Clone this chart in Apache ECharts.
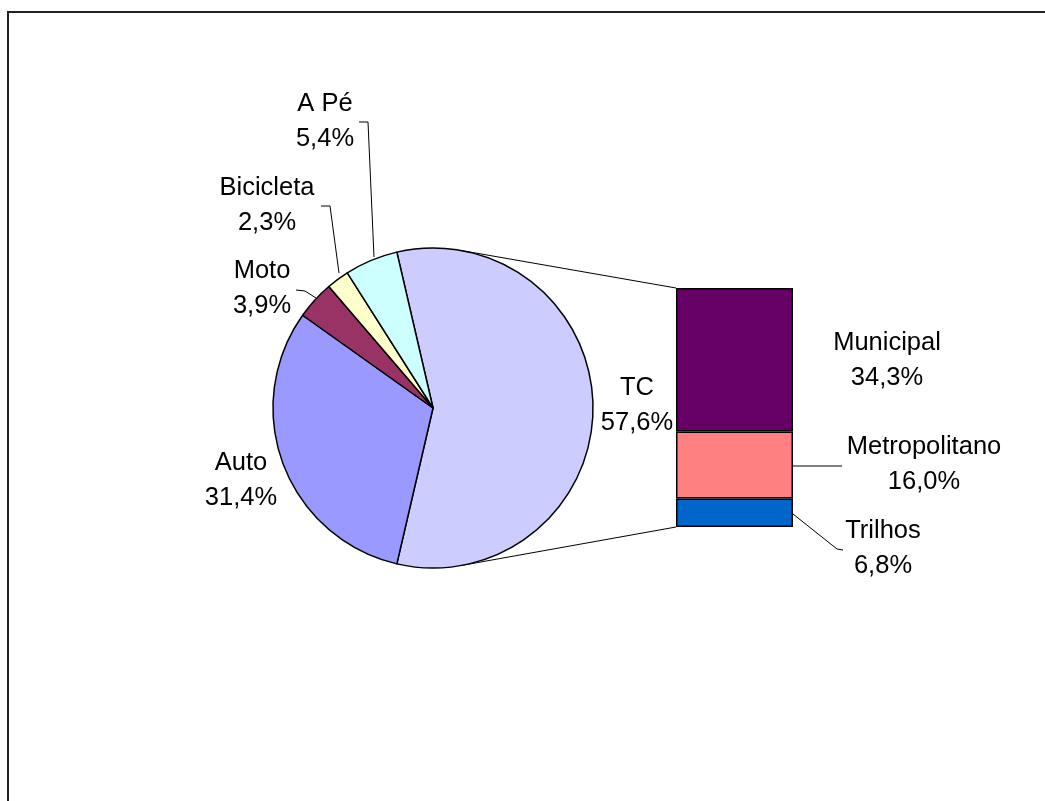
<!DOCTYPE html>
<html>
<head>
<meta charset="utf-8">
<script src="https://cdn.jsdelivr.net/npm/echarts@6/dist/echarts.min.js"></script>
<style>html,body{margin:0;padding:0;background:#fff}#c{width:1045px;height:801px}</style>
</head>
<body>
<div id="c"></div>
<script>
// ---- data ----
const pieNames = ['TC', 'Auto', 'Moto', 'Bicicleta', 'A Pé'];
const pieValues = [57.6, 31.4, 3.9, 2.3, 5.4];
const pieColors = ['#CCCCFF', '#9999FF', '#993366', '#FFFFCC', '#CCFFFF'];

const barNames = ['Municipal', 'Metropolitano', 'Trilhos'];
const barValues = [34.3, 16.0, 6.8];
const barColors = ['#660066', '#FF8080', '#0066CC'];

// ---- layout ----
const pieCenter = [433, 408];
const pieRadius = 160;
const barGrid = { left: 676, top: 288, width: 117, height: 239 };
const FONT = { fontFamily: 'Liberation Sans, Arial, sans-serif', fontSize: 25.5, lineHeight: 35, color: '#000' };

// label anchors (center of text block) and leader lines
const pieLabelPos = {
  'TC': { c: [637, 405] },
  'Auto': { c: [241, 480] },
  'Moto': { c: [262, 288], line: [[316, 298], [305, 291], [296, 290]] },
  'Bicicleta': { c: [267, 205], line: [[339, 273], [330, 206], [321, 206]] },
  'A Pé': { c: [325, 121], line: [[374, 257], [368, 122], [359, 122]] }
};
const barLabelPos = {
  'Municipal': { c: [887, 360] },
  'Metropolitano': { c: [924, 464], line: [[793, 466], [842, 466]] },
  'Trilhos': { c: [883, 548], line: [[793, 514], [837, 549], [843, 550]] }
};

const fmt = v => v.toFixed(1).replace('.', ',') + '%';

const pieTotal = pieValues.reduce((a, b) => a + b, 0);
const startAngle = 360 * pieValues[0] / pieTotal / 2;

const barTotal = barValues.reduce((a, b) => a + b, 0);

const chart = echarts.init(document.getElementById('c'), null, { renderer: 'canvas' });

// stacked bar (bottom first)
const barSeries = [];
for (let i = barNames.length - 1; i >= 0; i--) {
  const name = barNames[i];
  const lp = barLabelPos[name];
  barSeries.push({
    type: 'bar',
    name: name,
    stack: 'tc',
    barWidth: '100%',
    data: [barValues[i]],
    itemStyle: { color: barColors[i], borderColor: '#000', borderWidth: 1.5 },
    label: {
      show: true, position: 'right',
      formatter: () => name + '\n' + fmt(barValues[i]),
      align: 'center', ...FONT
    },
    labelLayout: () => ({ x: lp.c[0], y: lp.c[1], align: 'center', verticalAlign: 'middle' }),
    emphasis: { disabled: true },
    animation: false
  });
}

const pieData = pieNames.map((n, i) => ({
  name: n,
  value: pieValues[i],
  itemStyle: { color: pieColors[i] },
  labelLine: { show: !!pieLabelPos[n].line }
}));

// connector tangent lines from bar left corners to the circle
function tangentPoint(P, upper) {
  const dx = P[0] - pieCenter[0], dy = P[1] - pieCenter[1];
  const d = Math.sqrt(dx * dx + dy * dy);
  const th = Math.atan2(dy, dx);
  const a = Math.acos(pieRadius / d);
  const t = upper ? th - a : th + a;
  return [pieCenter[0] + pieRadius * Math.cos(t), pieCenter[1] + pieRadius * Math.sin(t)];
}
const barTL = [barGrid.left, barGrid.top];
const barBL = [barGrid.left, barGrid.top + barGrid.height];
const tTop = tangentPoint(barTL, true);
const tBot = tangentPoint(barBL, false);

const graphics = [
  { type: 'rect', shape: { x: 8, y: 12, width: 1200, height: 900 }, style: { fill: 'none', stroke: '#222', lineWidth: 2 }, silent: true, z: -10 },
  { type: 'line', shape: { x1: tTop[0], y1: tTop[1], x2: barTL[0], y2: barTL[1] }, style: { stroke: '#000', lineWidth: 1 }, silent: true },
  { type: 'line', shape: { x1: tBot[0], y1: tBot[1], x2: barBL[0], y2: barBL[1] }, style: { stroke: '#000', lineWidth: 1 }, silent: true }
];
barNames.forEach(n => {
  const lp = barLabelPos[n];
  if (lp.line) graphics.push({ type: 'polyline', shape: { points: lp.line }, style: { stroke: '#000', lineWidth: 1, fill: null }, silent: true });
});

chart.setOption({
  animation: false,
  backgroundColor: '#fff',
  grid: { ...barGrid, containLabel: false },
  xAxis: { type: 'category', data: ['TC'], show: false },
  yAxis: { type: 'value', min: 0, max: barTotal, show: false },
  graphic: graphics,
  series: [
    {
      type: 'pie',
      center: pieCenter,
      radius: pieRadius,
      startAngle: startAngle,
      clockwise: true,
      avoidLabelOverlap: false,
      data: pieData,
      itemStyle: { borderColor: '#000', borderWidth: 1.5 },
      label: {
        show: true,
        formatter: p => p.name + '\n' + fmt(p.value),
        align: 'center', ...FONT
      },
      labelLine: { lineStyle: { color: '#000', width: 1 }, smooth: false },
      labelLayout: params => {
        const lp = pieLabelPos[pieNames[params.dataIndex]];
        const o = { x: lp.c[0], y: lp.c[1], align: 'center', verticalAlign: 'middle' };
        if (lp.line) o.labelLinePoints = lp.line;
        return o;
      },
      emphasis: { disabled: true }
    },
    ...barSeries
  ]
});
</script>
</body>
</html>
